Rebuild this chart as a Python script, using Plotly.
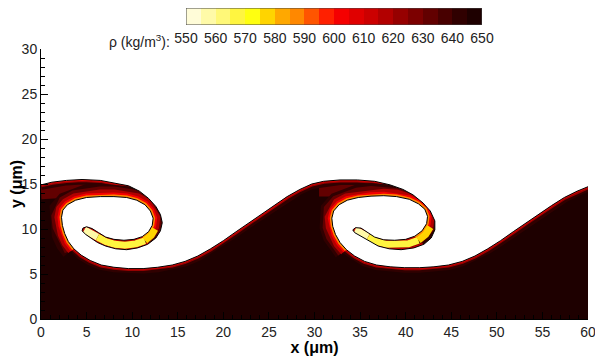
import plotly.graph_objects as go

# colour levels of the legend (rho from 550 to 650 kg/m3, 5 per band)
rho_edges = list(range(550, 655, 5))
band_colors = ['#fffcd8', '#fffaa8', '#fff878', '#fff540', '#ffff10', '#ffd400', '#ffa800',
               '#ff8800', '#ff5500', '#ff2000', '#f50000', '#e00000', '#cc0000', '#b20000',
               '#960000', '#7c0000', '#620000', '#480000', '#300000', '#1e0000']
rho_ticks = list(range(550, 651, 10))

# interface between heavy (bottom) and light (top) fluid
iface_x = [0.0, 1.2, 2.8, 4.5, 6.5, 8.2, 9.6, 10.8, 11.8, 12.6, 13.1, 13.3, 13.1, 12.6, 11.7,
           10.6, 9.4, 8.2, 7.1, 6.2, 5.5, 4.9, 4.5, 4.6, 5.0, 5.6, 6.3, 7.1, 8.0, 9.1,
           10.2, 11.1, 11.8, 12.2, 12.3, 12.0, 11.4, 10.5, 9.4, 8.0, 6.5, 5.0, 3.8, 2.9, 2.4,
           2.25, 2.35, 2.6, 3.0, 3.6, 4.4, 5.4, 6.6, 8.0, 9.6, 11.2, 12.8, 14.4, 15.8, 17.2,
           18.6, 20.0, 21.4, 22.8, 24.2, 25.6, 27.0, 28.4, 29.7,
           31.0, 32.8, 34.7, 36.6, 38.3, 39.7, 40.8, 41.9, 42.7, 43.2, 43.2, 42.8, 42.0, 40.9,
           39.5, 38.2, 37.0, 35.9, 35.0, 34.4, 34.2, 34.5, 35.1, 35.8, 36.6, 37.6, 38.8, 40.0,
           41.0, 41.8, 42.3, 42.4, 42.1, 41.4, 40.4, 39.0, 37.6, 36.2, 34.8, 33.6, 32.7, 32.1,
           31.9, 32.0, 32.3, 32.8, 33.5, 34.4, 35.5, 36.8, 38.3, 39.9, 41.5, 43.1, 44.7, 46.2,
           47.6, 49.0, 50.4, 51.8, 53.2, 54.6, 56.0, 57.4, 58.8, 60.0]
iface_y = [14.9, 15.2, 15.4, 15.5, 15.4, 15.1, 14.8, 14.2, 13.4, 12.5, 11.6, 10.7, 9.8, 9.0, 8.3,
           7.9, 7.7, 7.8, 8.1, 8.5, 9.0, 9.4, 9.8, 10.1, 10.25, 10.05, 9.6, 9.1, 8.85, 8.75,
           8.85, 9.15, 9.7, 10.4, 11.2, 12.0, 12.7, 13.2, 13.5, 13.6, 13.6, 13.5, 13.2, 12.7, 12.1,
           11.3, 10.4, 9.5, 8.6, 7.8, 7.1, 6.5, 6.0, 5.75, 5.6, 5.6, 5.75, 6.0, 6.4, 7.0,
           7.8, 8.7, 9.7, 10.7, 11.7, 12.7, 13.6, 14.4, 15.0,
           15.3, 15.45, 15.45, 15.3, 14.9, 14.4, 13.8, 12.9, 12.0, 10.9, 9.9, 9.0, 8.3, 7.9,
           7.7, 7.8, 8.1, 8.7, 9.2, 9.6, 9.9, 10.15, 10.1, 9.6, 9.1, 8.8, 8.75, 8.85,
           9.2, 9.8, 10.6, 11.4, 12.2, 12.8, 13.3, 13.6, 13.7, 13.65, 13.5, 13.2, 12.7, 12.0,
           11.2, 10.3, 9.4, 8.5, 7.7, 7.0, 6.4, 6.0, 5.8, 5.7, 5.7, 5.8, 6.0, 6.4,
           7.0, 7.8, 8.7, 9.7, 10.7, 11.7, 12.6, 13.5, 14.2, 14.7]

# inner side of each roll (index ranges into the interface)
inner_sides = [(31, 50), (97, 116)]

# middle of the mixed band of each roll
ring1_x = [0.0, 1.5, 3.2, 5.0, 6.7, 8.3, 9.7, 10.9, 11.9, 12.5, 12.8, 12.6]
ring1_y = [14.2, 14.4, 14.4, 14.5, 14.5, 14.35, 14.0, 13.4, 12.6, 11.7, 10.8, 9.8]
ring2_x = [30.5, 31.5, 33.2, 35.0, 36.7, 38.3, 39.6, 40.8, 41.7, 42.4, 42.8, 42.6]
ring2_y = [14.5, 14.4, 14.5, 14.55, 14.45, 14.2, 13.7, 13.0, 12.2, 11.2, 10.2, 9.4]
ring_rho = 630

# tongues (light mixed fluid), from the tip to the roll
tongue1_x = [4.75, 5.3, 6.2, 7.1, 8.1, 9.2, 10.4, 11.4, 12.1, 12.5]
tongue1_y = [9.9, 9.65, 9.1, 8.6, 8.3, 8.2, 8.35, 8.7, 9.3, 10.0]
tongue2_x = [34.45, 35.0, 35.9, 36.8, 37.9, 39.1, 40.3, 41.4, 42.2, 42.7]
tongue2_y = [9.9, 9.65, 9.15, 8.6, 8.3, 8.25, 8.35, 8.75, 9.4, 10.2]
tongue_parts = [(0, 3), (2, 8), (7, 10)]
tongue_rho = [558, 568, 576]


def color_of(rho):
    i = min(int((rho - 550) // 5), len(band_colors) - 1)
    return band_colors[i]


def line(x, y, width, color):
    return go.Scatter(x=x, y=y, mode='lines', line=dict(color=color, width=width),
                      hoverinfo='skip', showlegend=False)


fig = go.Figure()

# heavy fluid
fig.add_trace(go.Scatter(x=iface_x + [60, 0], y=iface_y + [0, 0], fill='toself',
                         fillcolor=color_of(650), line=dict(width=0), mode='lines',
                         hoverinfo='skip', showlegend=False))

for rx, ry in [(ring1_x, ring1_y), (ring2_x, ring2_y)]:
    fig.add_trace(line(rx, ry, 16, color_of(ring_rho)))

# thin mixing layer along the whole interface
for w, rho in [(10, 640), (5, 622), (2.5, 605)]:
    fig.add_trace(line(iface_x, iface_y, w, color_of(rho)))

# stronger mixing on the inner side of the rolls
for a, b in inner_sides:
    for w, rho in [(26, 640), (20, 630), (14, 615), (8, 600), (4, 588)]:
        fig.add_trace(line(iface_x[a:b], iface_y[a:b], w, color_of(rho)))

for tx, ty in [(tongue1_x, tongue1_y), (tongue2_x, tongue2_y)]:
    for (a, b), rho in zip(tongue_parts, tongue_rho):
        fig.add_trace(line(tx[a:b], ty[a:b], 7, color_of(rho)))

# light fluid
fig.add_trace(go.Scatter(x=iface_x + [60, 0], y=iface_y + [30, 30], fill='toself',
                         fillcolor='white', line=dict(width=0), mode='lines',
                         hoverinfo='skip', showlegend=False))
fig.add_trace(line(iface_x, iface_y, 1, 'black'))

# colour legend drawn as a one-row heatmap on its own axes
scale = []
for i, c in enumerate(band_colors):
    scale += [[i / len(band_colors), c], [(i + 1) / len(band_colors), c]]
band_mid = [(a + b) / 2 for a, b in zip(rho_edges[:-1], rho_edges[1:])]
fig.add_trace(go.Heatmap(x=rho_edges, z=[band_mid], zmin=550, zmax=650, colorscale=scale,
                         showscale=False, hoverinfo='skip', xaxis='x2', yaxis='y2'))
fig.add_shape(type='rect', xref='x2', yref='y2', x0=550, x1=650, y0=-0.5, y1=0.5,
              line=dict(color='#444', width=1))

fig.add_annotation(text='ρ (kg/m<sup>3</sup>):', xref='paper', yref='paper',
                   x=0.2395, y=0.895, xanchor='right', yanchor='middle', showarrow=False,
                   font=dict(size=14, color='#222'))

axis = dict(showgrid=False, zeroline=False, showline=True, linecolor='black', linewidth=1,
            ticks='inside', ticklen=7, tickcolor='black', dtick=5, tick0=0,
            minor=dict(dtick=1, ticks='inside', ticklen=4, tickcolor='black'),
            tickfont=dict(size=14, color='#222'))

# the page body adds an 8 px margin, so the figure is 8 px smaller than the window
fig.update_layout(
    width=595, height=348,
    margin=dict(l=33, r=15, t=0, b=37, autoexpand=False),
    paper_bgcolor='white', plot_bgcolor='white',
    font=dict(family='Liberation Sans, Arial, sans-serif'),
    xaxis=dict(axis, range=[0, 60],
               title=dict(text='<b>x (μm)</b>', font=dict(size=16, color='black'), standoff=3)),
    yaxis=dict(axis, range=[0, 30], domain=[0, 270 / 311],
               title=dict(text='<b>y (μm)</b>', font=dict(size=16, color='black'), standoff=5)),
    xaxis2=dict(domain=[0.2651, 0.8062], anchor='y2', range=[550, 650], tickvals=rho_ticks,
                ticks='', showline=False, showgrid=False, zeroline=False, ticklabelstandoff=3,
                tickfont=dict(size=14, color='#222')),
    yaxis2=dict(domain=[0.9453, 1], anchor='x2', range=[-0.5, 0.5], visible=False),
)

fig.write_html("out.html")
